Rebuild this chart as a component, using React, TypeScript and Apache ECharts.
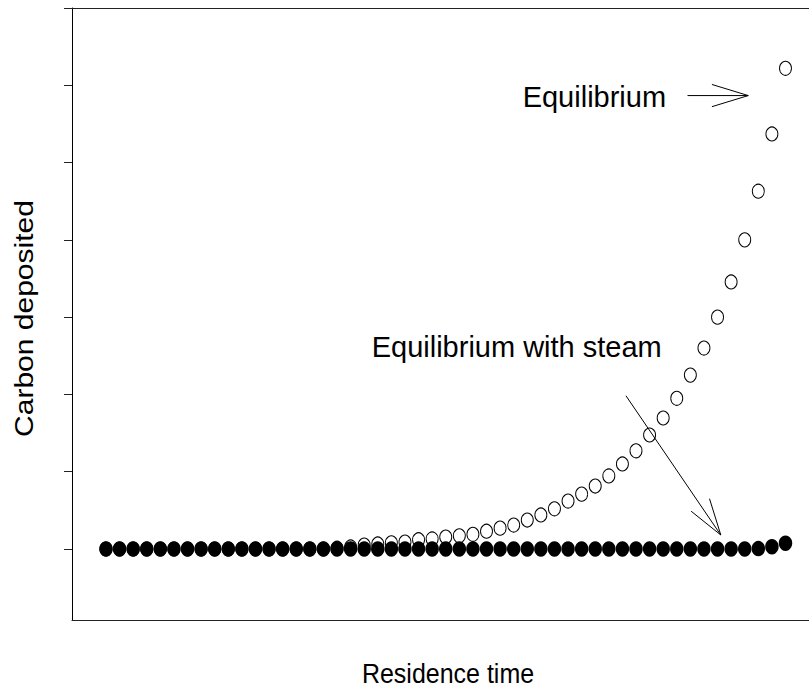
import React, { useEffect, useRef } from "react";
import * as echarts from "echarts";

// Residence-time steps (x positions of the samples)
const residenceSteps = [
  0, 1, 2, 3, 4, 5, 6, 7, 8, 9, 10, 11, 12, 13, 14, 15, 16, 17, 18, 19, 20,
  21, 22, 23, 24, 25, 26, 27, 28, 29, 30, 31, 32, 33, 34, 35, 36, 37, 38, 39,
  40, 41, 42, 43, 44, 45, 46, 47, 48, 49, 50,
];

// Carbon deposited at equilibrium (open circles)
const equilibrium = [
  0, 0, 0, 0, 0, 0, 0, 0, 0, 0, 0, 0, 0, 0, 0, 0, 0, 0.01, 0.026, 0.05, 0.065,
  0.08, 0.09, 0.12, 0.13, 0.155, 0.17, 0.19, 0.23, 0.27, 0.31, 0.375, 0.44,
  0.52, 0.62, 0.71, 0.815, 0.945, 1.1, 1.27, 1.475, 1.695, 1.95, 2.25, 2.6,
  3.0, 3.455, 4.0, 4.63, 5.37, 6.22,
];

// Carbon deposited at equilibrium with steam (filled circles)
const equilibriumSteam = [
  0, 0, 0, 0, 0, 0, 0, 0, 0, 0, 0, 0, 0, 0, 0, 0, 0, 0, 0, 0, 0, 0, 0, 0, 0,
  0, 0, 0, 0, 0, 0, 0, 0, 0, 0, 0, 0, 0, 0, 0, 0, 0, 0, 0, 0, 0, 0, 0, 0.005,
  0.03, 0.075,
];

// Y-axis tick positions (unlabelled)
const yTicks = [0, 1, 2, 3, 4, 5, 6, 7];

// Annotations, in data coordinates
const annotationText = ["Equilibrium", "Equilibrium with steam"];
const annotationAt = [
  [30.66, 5.85],
  [19.55, 2.62],
];
const arrowFrom = [
  [42.79, 5.867],
  [38.26, 1.983],
];
const arrowTo = [
  [47.26, 5.867],
  [45.24, 0.181],
];

const FONT = "'Liberation Sans', Arial, sans-serif";

export default function App() {
  const ref = useRef<HTMLDivElement>(null);

  useEffect(() => {
    if (!ref.current) return;
    const chart = echarts.init(ref.current, null, { renderer: "svg" });

    const headLen = 38;
    const headAngle = (17 * Math.PI) / 180;

    chart.setOption({
      animation: false,
      backgroundColor: "#fff",
      grid: { left: 72, top: 8, right: 0, bottom: 72 },
      xAxis: [
        {
          type: "value",
          min: -2.5,
          max: 51.73,
          axisLine: { show: true, onZero: false, lineStyle: { color: "#222", width: 1 } },
          axisTick: { show: false },
          axisLabel: { show: false },
          splitLine: { show: false },
        },
        {
          type: "value",
          position: "top",
          min: -2.5,
          max: 51.73,
          axisLine: { show: true, onZero: false, lineStyle: { color: "#222", width: 1 } },
          axisTick: { show: false },
          axisLabel: { show: false },
          splitLine: { show: false },
        },
      ],
      yAxis: {
        type: "value",
        min: -0.9187,
        max: 7,
        axisLine: { show: true, onZero: false, lineStyle: { color: "#000", width: 1 } },
        axisTick: {
          show: true,
          customValues: yTicks,
          length: 8,
          inside: false,
          lineStyle: { color: "#222", width: 1 },
        },
        axisLabel: { show: false },
        splitLine: { show: false },
      },
      graphic: [
        {
          type: "text",
          x: 448,
          y: 674,
          scaleY: 1.1,
          style: {
            text: "Residence time",
            fontSize: 25,
            fontFamily: FONT,
            fill: "#000",
            align: "center",
            verticalAlign: "middle",
          },
        },
        {
          type: "text",
          x: 24,
          y: 318.5,
          rotation: Math.PI / 2,
          scaleX: 1.2,
          style: {
            text: "Carbon deposited",
            fontSize: 25,
            fontFamily: FONT,
            fill: "#000",
            align: "center",
            verticalAlign: "middle",
          },
        },
      ],
      series: [
        {
          type: "scatter",
          name: "Equilibrium",
          data: residenceSteps.map((x, i) => [x, equilibrium[i]]),
          symbol: "circle",
          symbolSize: [12, 14],
          itemStyle: {
            color: "rgba(0,0,0,0)",
            borderColor: "#000",
            borderWidth: 1,
            opacity: 1,
          },
          silent: true,
          emphasis: { disabled: true },
        },
        {
          type: "scatter",
          name: "Equilibrium with steam",
          data: residenceSteps.map((x, i) => [x, equilibriumSteam[i]]),
          symbol: "circle",
          symbolSize: [13.5, 15.5],
          itemStyle: { color: "#000", opacity: 1 },
          silent: true,
          emphasis: { disabled: true },
        },
        {
          type: "custom",
          silent: true,
          data: annotationAt,
          renderItem: (params: any, api: any) => {
            const i = params.dataIndex;
            const p = api.coord(annotationAt[i]);
            const a = api.coord(arrowFrom[i]);
            const b = api.coord(arrowTo[i]);
            const ang = Math.atan2(b[1] - a[1], b[0] - a[0]);
            const h1 = [
              b[0] - headLen * Math.cos(ang - headAngle),
              b[1] - headLen * Math.sin(ang - headAngle),
            ];
            const h2 = [
              b[0] - headLen * Math.cos(ang + headAngle),
              b[1] - headLen * Math.sin(ang + headAngle),
            ];
            return {
              type: "group",
              children: [
                {
                  type: "line",
                  shape: { x1: a[0], y1: a[1], x2: b[0], y2: b[1] },
                  style: { stroke: "#000", lineWidth: 1 },
                },
                {
                  type: "polyline",
                  shape: { points: [h1, b, h2] },
                  style: { stroke: "#000", fill: "none", lineWidth: 1 },
                },
                {
                  type: "text",
                  x: p[0],
                  y: p[1],
                  style: {
                    text: annotationText[i],
                    fontSize: 29,
                    fontFamily: FONT,
                    fill: "#000",
                    align: "left",
                    verticalAlign: "middle",
                  },
                },
              ],
            };
          },
        },
      ],
    });

    return () => chart.dispose();
  }, []);

  return (
    <div
      ref={ref}
      style={{ position: "fixed", left: 0, top: 0, width: 809, height: 692 }}
    />
  );
}
